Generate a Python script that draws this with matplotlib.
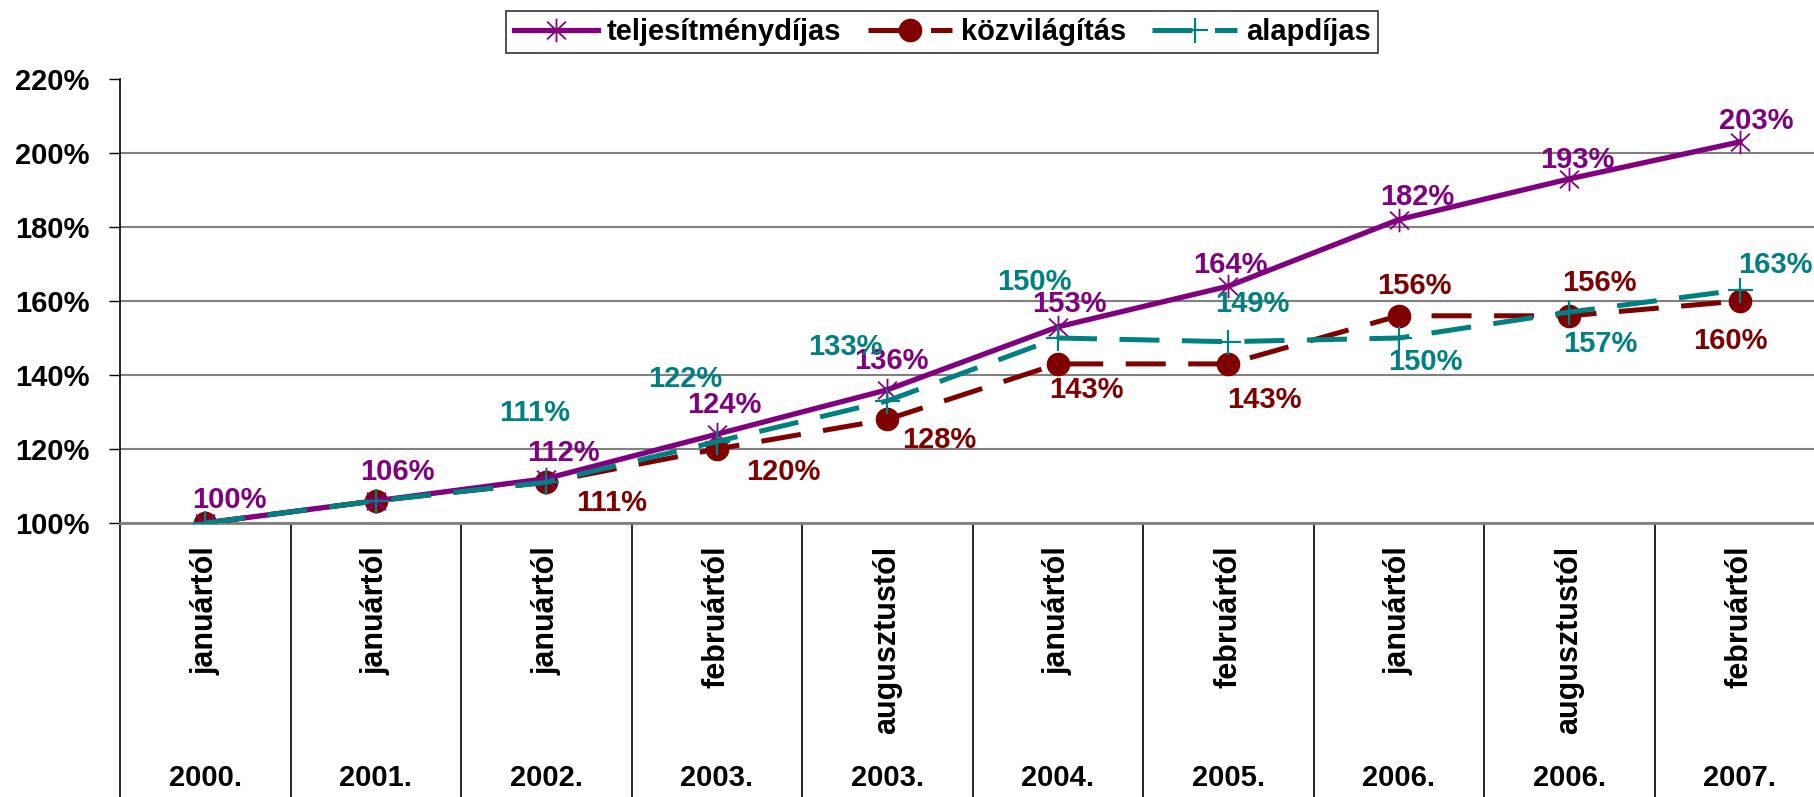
import numpy as np
import matplotlib.pyplot as plt
from matplotlib.path import Path

plt.rcParams['font.family'] = ['Liberation Sans', 'DejaVu Sans']
plt.rcParams['font.weight'] = 'bold'

# category labels (two levels)
months = ["januártól", "januártól", "januártól", "februártól", "augusztustól",
          "januártól", "februártól", "januártól", "augusztustól", "februártól"]
years = ["2000.", "2001.", "2002.", "2003.", "2003.",
         "2004.", "2005.", "2006.", "2006.", "2007."]

# values in percent
teljesitmeny = [100, 106, 112, 124, 136, 153, 164, 182, 193, 203]
kozvilagitas = [100, 106, 111, 120, 128, 143, 143, 156, 156, 160]
alapdij = [100, 106, 111, 122, 133, 150, 149, 150, 157, 163]

yticks = [100, 120, 140, 160, 180, 200, 220]

# label offsets in pixels (None = no label shown)
off_telj = [(24, 23), (22, 29), (17, 26), (8, 29), (4, 29),
            (12, 23), (2, 21), (18, 23), (8, 19), (16, 21)]
off_kozv = [None, None, (65, -21), (67, -23), (52, -21),
            (29, -26), (36, -36), (16, 30), (30, 33), (-9, -40)]
off_alap = [None, None, (-12, 69), (-32, 63), (-42, 54),
            (-23, 56), (24, 38), (27, -24), (31, -32), (36, 25)]

PURPLE = "#800080"
DARKRED = "#800000"
TEAL = "#008080"

star = Path([(0, -1), (0, 1), (-0.8, -0.75), (0.8, 0.75), (-0.8, 0.75), (0.8, -0.75)],
            [Path.MOVETO, Path.LINETO, Path.MOVETO, Path.LINETO, Path.MOVETO, Path.LINETO])

fig = plt.figure(figsize=(18.14, 7.97), dpi=100)
ax = fig.add_axes([120 / 1814, 1 - 523 / 797, 1705 / 1814, 444 / 797])

x = np.arange(len(months))
dash = (0, (8, 4.5))

ax.plot(x, teljesitmeny, color=PURPLE, lw=3.8, marker=star, markersize=17,
        markeredgewidth=1.3, markeredgecolor=PURPLE, label="teljesítménydíjas", zorder=4)
ax.plot(x, kozvilagitas, color=DARKRED, lw=3.6, linestyle=dash, marker="o", markersize=16,
        markerfacecolor=DARKRED, markeredgecolor=DARKRED, label="közvilágítás", zorder=3)
ax.plot(x, alapdij, color=TEAL, lw=3.6, linestyle=dash, marker="+", markersize=18,
        markeredgewidth=1.6, markeredgecolor=TEAL, label="alapdíjas", zorder=5)

for vals, offs, col in [(teljesitmeny, off_telj, PURPLE),
                        (kozvilagitas, off_kozv, DARKRED),
                        (alapdij, off_alap, TEAL)]:
    for i, (v, o) in enumerate(zip(vals, offs)):
        if o is None:
            continue
        ax.annotate(f"{v}%", (i, v), xytext=o, textcoords="offset pixels",
                    ha="center", va="center", color=col, fontsize=21,
                    fontweight="bold", zorder=6)

ax.set_xlim(-0.5, len(months) - 0.5)
ax.set_ylim(100, 220)
ax.set_yticks(yticks)
ax.set_yticklabels([f"{t}%" for t in yticks], fontsize=21, fontweight="bold")
ax.tick_params(axis="y", length=8, width=1, pad=14)
ax.set_xticks([])

ax.grid(axis="y", color="#808080", lw=1.5)
ax.yaxis.get_gridlines()[-1].set_visible(False)
ax.set_axisbelow(True)

for s in ["top", "right"]:
    ax.spines[s].set_visible(False)
ax.spines["bottom"].set_color("#808080")
ax.spines["bottom"].set_linewidth(2)
ax.spines["left"].set_linewidth(1.2)

# category table below the axis
trans = ax.get_xaxis_transform()
bottom = -(797 - 523) / 444
ax.vlines(np.arange(len(months) + 1) - 0.5, bottom, 0, transform=trans,
          colors="black", lw=1.2, clip_on=False)
for i in range(len(months)):
    ax.text(i, -(546 - 523) / 444, months[i], transform=trans, rotation=90,
            ha="center", va="top", fontsize=22, fontweight="bold")
    ax.text(i, -(778 - 523) / 444, years[i], transform=trans,
            ha="center", va="center", fontsize=21, fontweight="bold")

leg = fig.legend(loc="center", bbox_to_anchor=(942 / 1814, 1 - 32 / 797), ncol=3,
                 fontsize=21, frameon=True, fancybox=False, edgecolor="black",
                 handlelength=2.9, handletextpad=0.3, columnspacing=0.9,
                 borderpad=0.25, borderaxespad=0)
leg.get_frame().set_linewidth(1.2)
for t in leg.get_texts():
    t.set_fontweight("bold")

fig.savefig("out.png", dpi=100)
